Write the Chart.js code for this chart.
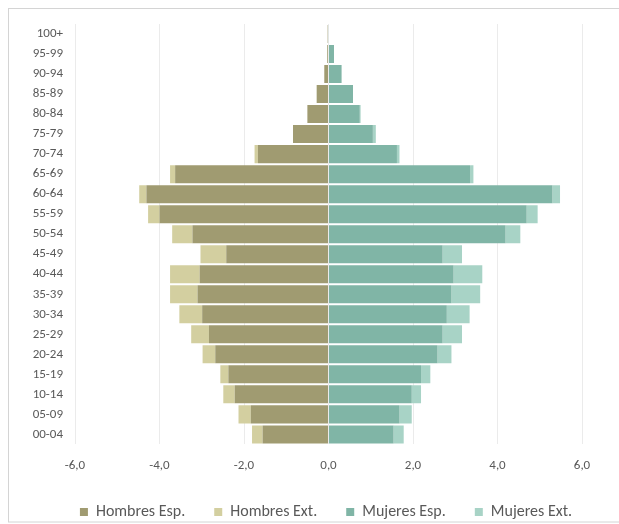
<!DOCTYPE html>
<html>
<head>
<meta charset="utf-8">
<script src="https://cdn.jsdelivr.net/npm/chart.js@4"></script>
<style>
  html, body { margin: 0; padding: 0; background: #fff; }
  #wrap { width: 619px; height: 524px; position: relative; }
</style>
</head>
<body>
<div id="wrap"><canvas id="piramide"></canvas></div>
<script>
// grupos de edad, de arriba a abajo
const grupos = ["100+", "95-99", "90-94", "85-89", "80-84", "75-79", "70-74", "65-69", "60-64", "55-59",
  "50-54", "45-49", "40-44", "35-39", "30-34", "25-29", "20-24", "15-19", "10-14", "05-09", "00-04"];

// porcentaje sobre la población total
const hombresEsp = [0.02, 0.03, 0.10, 0.28, 0.50, 0.84, 1.67, 3.63, 4.31, 4.00,
  3.22, 2.42, 3.05, 3.10, 2.99, 2.83, 2.68, 2.37, 2.22, 1.84, 1.56];
const hombresExt = [0, 0, 0, 0, 0, 0, 0.08, 0.12, 0.17, 0.27,
  0.48, 0.61, 0.70, 0.65, 0.54, 0.42, 0.30, 0.19, 0.27, 0.29, 0.25];
const mujeresEsp = [0.01, 0.13, 0.31, 0.58, 0.74, 1.05, 1.62, 3.35, 5.30, 4.69,
  4.19, 2.70, 2.96, 2.91, 2.80, 2.70, 2.58, 2.19, 1.97, 1.68, 1.54];
const mujeresExt = [0, 0, 0, 0, 0.02, 0.07, 0.06, 0.08, 0.18, 0.26,
  0.35, 0.46, 0.68, 0.68, 0.54, 0.46, 0.33, 0.22, 0.22, 0.29, 0.24];

const ejeX = [-6, -4, -2, 0, 2, 4, 6];

const negativo = arr => arr.map(v => -v);
const fuente = "Carlito, Lato, sans-serif";

// fondo blanco y marco gris del gráfico
const marco = {
  id: "marco",
  beforeDraw(chart) {
    const ctx = chart.ctx;
    ctx.save();
    ctx.fillStyle = "#fff";
    ctx.fillRect(0, 0, chart.width, chart.height);
    ctx.strokeStyle = "#d4d4d4";
    ctx.lineWidth = 1;
    ctx.strokeRect(8.5, 8.5, chart.width + 5, 513.5);
    ctx.restore();
  }
};

// recoloca la leyenda debajo del eje
const moverLeyenda = {
  id: "moverLeyenda",
  afterLayout(chart) {
    const l = chart.legend;
    if (!l) return;
    const dx = 30, dy = -13;
    l.left += dx; l.right += dx;
    l.top += dy; l.bottom += dy;
  }
};

const barra = { barPercentage: 0.9, categoryPercentage: 1, borderWidth: 0 };

new Chart(document.getElementById("piramide"), {
  type: "bar",
  data: {
    labels: grupos,
    datasets: [
      { label: "Hombres Esp.", data: negativo(hombresEsp), backgroundColor: "#a09b71", ...barra },
      { label: "Hombres Ext.", data: negativo(hombresExt), backgroundColor: "#d3cfa0", ...barra },
      { label: "Mujeres Esp.", data: mujeresEsp, backgroundColor: "#80b5a6", ...barra },
      { label: "Mujeres Ext.", data: mujeresExt, backgroundColor: "#a8d3c6", ...barra }
    ]
  },
  options: {
    indexAxis: "y",
    responsive: true,
    maintainAspectRatio: false,
    animation: false,
    layout: { padding: { left: 10, right: 37, top: 24, bottom: -19 } },
    scales: {
      x: {
        stacked: true,
        min: -6,
        max: 6,
        z: 1,
        afterBuildTicks: s => { s.ticks = ejeX.map(v => ({ value: v })); },
        grid: { color: "rgba(0,0,0,0.08)", drawTicks: false },
        border: { display: false },
        ticks: {
          padding: 14,
          color: "#595959",
          font: { family: fuente, size: 13 },
          callback: v => v.toFixed(1).replace(".", ",")
        }
      },
      y: {
        stacked: true,
        afterFit: s => { s.width = 65; },
        grid: { display: false, drawTicks: false },
        border: { display: false },
        ticks: {
          padding: 12,
          color: "#595959",
          font: { family: fuente, size: 13 }
        }
      }
    },
    plugins: {
      tooltip: { enabled: false },
      legend: {
        position: "bottom",
        labels: {
          boxWidth: 8,
          boxHeight: 8,
          padding: 29,
          color: "#595959",
          font: { family: fuente, size: 16 }
        }
      }
    }
  },
  plugins: [marco, moverLeyenda]
});
</script>
</body>
</html>
